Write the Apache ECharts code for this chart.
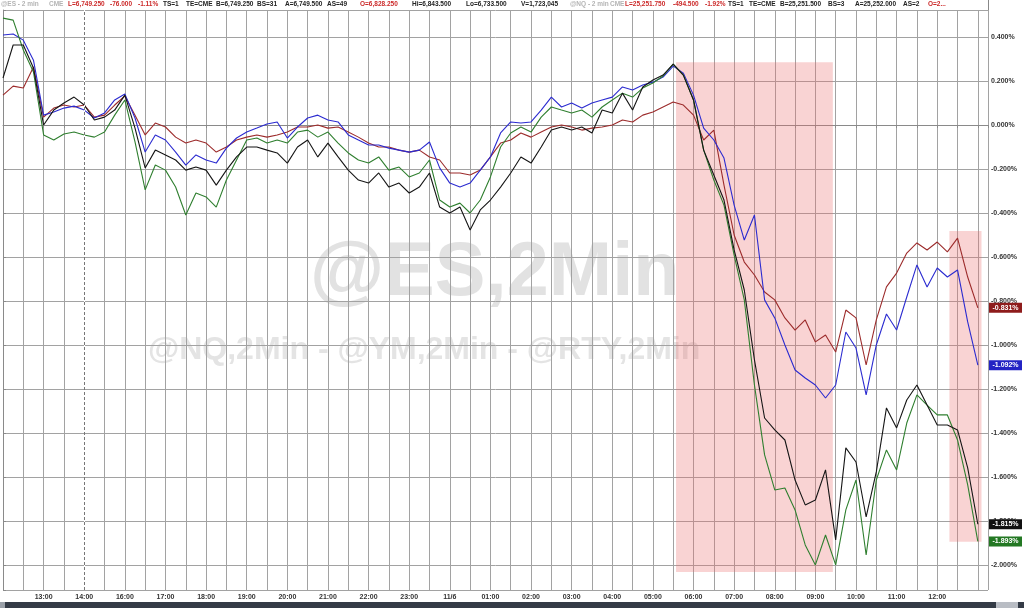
<!DOCTYPE html>
<html>
<head>
<meta charset="utf-8">
<script src="https://cdn.jsdelivr.net/npm/echarts@6/dist/echarts.min.js"></script>
<style>
html, body { margin: 0; padding: 0; background: #fff; }
#chart { width: 1024px; height: 608px; }
</style>
</head>
<body>
<div id="chart"></div>
<script>
// x = trading hours since 12:00 (the 15:00 hour is skipped), one point every 15 min
const STEP = 0.25;
const X_MAX = 24.25;
const tickLabels = ['', '13:00', '14:00', '16:00', '17:00', '18:00', '19:00', '20:00', '21:00', '22:00',
  '23:00', '11/6', '01:00', '02:00', '03:00', '04:00', '05:00', '06:00', '07:00', '08:00',
  '09:00', '10:00', '11:00', '12:00', ''];

// % change
const esVals = [0.409,0.414,0.386,0.295,0.045,0.059,0.077,0.086,0.068,0.032,
  0.055,0.114,0.141,0.032,-0.123,-0.045,-0.068,-0.123,-0.182,-0.136,
  -0.159,-0.173,-0.105,-0.059,-0.032,-0.014,0.005,0.014,-0.059,-0.009,
  0.032,0.045,0.023,0.014,-0.045,-0.068,-0.091,-0.091,-0.105,-0.114,
  -0.123,-0.114,-0.077,-0.195,-0.264,-0.282,-0.264,-0.205,-0.145,-0.036,
  0.014,0.009,0.014,0.068,0.127,0.082,0.1,0.077,0.1,0.114,
  0.127,0.173,0.159,0.182,0.195,0.218,0.268,0.236,0.136,-0.014,
  -0.068,-0.15,-0.364,-0.523,-0.409,-0.795,-0.877,-1.0,-1.114,-1.15,
  -1.182,-1.241,-1.182,-0.941,-1.014,-1.227,-1.0,-0.859,-0.932,-0.782,
  -0.636,-0.736,-0.65,-0.691,-0.659,-0.895,-1.092];
const rtyVals = [0.214,0.364,0.364,0.259,0,0.068,0.1,0.127,0.091,0.023,
  0.036,0.068,0.136,-0.014,-0.195,-0.114,-0.136,-0.159,-0.205,-0.191,
  -0.205,-0.273,-0.205,-0.145,-0.1,-0.1,-0.114,-0.127,-0.173,-0.1,
  -0.068,-0.145,-0.082,-0.145,-0.205,-0.25,-0.264,-0.218,-0.282,-0.264,
  -0.309,-0.282,-0.218,-0.373,-0.4,-0.373,-0.477,-0.386,-0.341,-0.282,
  -0.218,-0.145,-0.173,-0.1,-0.023,-0.009,-0.023,-0.009,-0.036,0.068,
  0.055,0.145,0.068,0.173,0.205,0.227,0.277,0.227,0.114,-0.114,
  -0.227,-0.341,-0.568,-0.75,-1.068,-1.332,-1.386,-1.432,-1.614,-1.727,
  -1.705,-1.568,-1.886,-1.468,-1.532,-1.782,-1.577,-1.286,-1.377,-1.25,
  -1.182,-1.273,-1.364,-1.364,-1.386,-1.559,-1.815];
const nqVals = [0.486,0.477,0.341,0.241,-0.045,-0.068,-0.041,-0.032,-0.045,-0.055,
  -0.032,0.045,0.114,-0.077,-0.295,-0.182,-0.205,-0.282,-0.409,-0.309,
  -0.327,-0.373,-0.25,-0.159,-0.068,-0.059,-0.082,-0.068,-0.082,-0.032,
  -0.023,-0.055,-0.032,-0.082,-0.127,-0.159,-0.173,-0.145,-0.205,-0.191,
  -0.236,-0.218,-0.159,-0.341,-0.373,-0.355,-0.4,-0.341,-0.236,-0.1,
  -0.036,-0.009,-0.032,0.036,0.082,0.068,0.055,0.068,0.036,0.082,
  0.114,0.145,0.127,0.168,0.191,0.223,0.277,0.227,0.114,-0.114,
  -0.25,-0.364,-0.591,-0.795,-1.182,-1.5,-1.659,-1.65,-1.75,-1.909,
  -2.0,-1.864,-2.0,-1.75,-1.614,-1.955,-1.614,-1.477,-1.568,-1.355,
  -1.227,-1.273,-1.318,-1.318,-1.432,-1.636,-1.893];
const ymVals = [0.136,0.177,0.168,0.264,0.036,0.077,0.091,0.082,0.091,0.036,
  0.045,0.091,0.132,0.045,-0.045,0.009,-0.009,-0.055,-0.082,-0.068,
  -0.082,-0.123,-0.1,-0.068,-0.055,-0.045,-0.055,-0.045,-0.032,-0.009,
  -0.009,0,-0.014,-0.009,-0.032,-0.055,-0.082,-0.1,-0.1,-0.114,
  -0.123,-0.114,-0.145,-0.159,-0.218,-0.218,-0.227,-0.205,-0.145,-0.082,
  -0.068,-0.036,-0.055,-0.032,-0.009,0,-0.009,-0.023,-0.014,-0.009,
  0,0.023,0.014,0.045,0.059,0.082,0.105,0.091,0.045,-0.068,
  -0.023,-0.273,-0.5,-0.623,-0.682,-0.759,-0.795,-0.877,-0.932,-0.886,
  -0.986,-0.955,-1.032,-0.841,-0.877,-1.091,-0.886,-0.736,-0.673,-0.582,
  -0.536,-0.568,-0.532,-0.577,-0.514,-0.691,-0.831];

// highlighted boxes [x1, y1, x2, y2] in axis units
const boxes = [[16.57, 0.286, 20.43, -2.032], [23.3, -0.482, 24.09, -1.895]];

const chart = echarts.init(document.getElementById('chart'));

function toPairs(vals) {
  return vals.map((v, i) => [i * STEP, v]);
}

function makeSeries(name, vals, color, tagColor) {
  const last = vals[vals.length - 1];
  return {
    name: name,
    type: 'line',
    data: toPairs(vals),
    showSymbol: false,
    symbol: 'none',
    lineStyle: { color: color, width: 1.1 },
    itemStyle: { color: color },
    z: 3,
    markPoint: {
      symbol: 'rect',
      symbolSize: [33, 10],
      symbolOffset: [17.5, 0],
      silent: true,
      itemStyle: { color: tagColor },
      label: {
        show: true,
        position: 'inside',
        color: '#fff',
        fontSize: 7,
        fontWeight: 'bold',
        fontFamily: 'Liberation Sans, Arial',
        formatter: last.toFixed(3) + '%'
      },
      data: [{ coord: [X_MAX, last] }]
    }
  };
}

const series = [
  makeSeries('@YM', ymVals, '#9c2b2b', '#8e1c1c'),
  makeSeries('@ES', esVals, '#2b2bd0', '#2424c4'),
  makeSeries('@NQ', nqVals, '#2f7f2f', '#237823'),
  makeSeries('@RTY', rtyVals, '#151515', '#111111')
];
series[0].markArea = {
  silent: true,
  itemStyle: { color: 'rgba(235,110,110,0.3)' },
  data: boxes.map(b => [{ xAxis: b[0], yAxis: b[1] }, { xAxis: b[2], yAxis: b[3] }])
};
// session break at 14:00
series[0].markLine = {
  silent: true,
  symbol: 'none',
  label: { show: false },
  data: [
    { xAxis: 2, lineStyle: { color: '#fff', type: 'solid', width: 1 } },
    { xAxis: 2, lineStyle: { color: '#777', type: [3, 2], width: 1 } }
  ]
};

// header quote strip: [text, x, color]
const GRAY = '#b4b4b4', RED = '#cc2a2a', BLK = '#222';
const header = [
  ['@ES - 2 min', 1, GRAY], ['CME', 49, GRAY], ['L=6,749.250', 68, RED], ['-76.000', 110, RED],
  ['-1.11%', 138, RED], ['TS=1', 163, BLK], ['TE=CME', 186, BLK], ['B=6,749.250', 216, BLK],
  ['BS=31', 257, BLK], ['A=6,749.500', 285, BLK], ['AS=49', 327, BLK], ['O=6,828.250', 360, RED],
  ['Hi=6,843.500', 412, BLK], ['Lo=6,733.500', 466, BLK], ['V=1,723,045', 521, BLK],
  ['@NQ - 2 min', 570, GRAY], ['CME', 610, GRAY], ['L=25,251.750', 625, RED], ['-494.500', 673, RED],
  ['-1.92%', 705, RED], ['TS=1', 728, BLK], ['TE=CME', 749, BLK], ['B=25,251.500', 780, BLK],
  ['BS=3', 828, BLK], ['A=25,252.000', 855, BLK], ['AS=2', 903, BLK], ['O=2...', 928, RED]
];

const graphics = header.map(h => ({
  type: 'text',
  left: h[1],
  top: 1,
  z: 10,
  style: { text: h[0], fill: h[2], fontSize: 6.5, fontWeight: 'bold', fontFamily: 'Liberation Sans, Arial' }
}));
graphics.push(
  {
    type: 'text', left: 310, top: 236, z: -10, silent: true,
    style: { text: '@ES,2Min', fill: '#e2e2e2', fontSize: 76, fontWeight: 'bold', fontFamily: 'Liberation Sans, Arial' }
  },
  {
    type: 'text', left: 148, top: 334, z: -10, silent: true,
    style: { text: '@NQ,2Min - @YM,2Min - @RTY,2Min', fill: '#e4e4e4', fontSize: 32, fontWeight: 'bold', fontFamily: 'Liberation Sans, Arial' }
  },
  { type: 'line', z: 5, shape: { x1: 988.5, y1: 0, x2: 988.5, y2: 10 }, style: { stroke: '#888', lineWidth: 1 } },
  { type: 'rect', z: 5, shape: { x: 0, y: 602, width: 1024, height: 6 }, style: { fill: '#343b46' } },
  { type: 'rect', z: 6, shape: { x: 0, y: 602, width: 5, height: 6 }, style: { fill: '#9aa0a8' } },
  { type: 'rect', z: 6, shape: { x: 996, y: 602, width: 22, height: 6 }, style: { fill: '#b9bdc4' } }
);

chart.setOption({
  animation: false,
  backgroundColor: '#fff',
  grid: { left: 2, right: 36, top: 10, bottom: 18 },
  xAxis: {
    type: 'value',
    min: 0,
    max: X_MAX,
    interval: 0.5,
    axisLine: { lineStyle: { color: '#8a8a8a' } },
    axisTick: { show: true, length: 3, lineStyle: { color: '#8a8a8a' } },
    splitLine: { show: true, lineStyle: { color: '#a2a2a2', width: 1 } },
    axisLabel: {
      color: '#333',
      fontSize: 7,
      fontWeight: 'bold',
      fontFamily: 'Liberation Sans, Arial',
      margin: 4,
      formatter: function (v) {
        if (Math.abs(v - Math.round(v)) > 1e-6) return '';
        return tickLabels[Math.round(v)] || '';
      }
    }
  },
  yAxis: {
    type: 'value',
    position: 'right',
    min: -2.114,
    max: 0.523,
    splitNumber: 13,
    axisLine: { show: true, lineStyle: { color: '#8a8a8a' } },
    axisTick: { show: true, length: 3, lineStyle: { color: '#8a8a8a' } },
    splitLine: { show: true, lineStyle: { color: '#a2a2a2', width: 1 } },
    axisLabel: {
      color: '#333',
      fontSize: 7,
      fontWeight: 'bold',
      fontFamily: 'Liberation Sans, Arial',
      margin: 3,
      formatter: function (v) {
        if (Math.abs(v * 5 - Math.round(v * 5)) > 1e-6) return '';
        return v.toFixed(3) + '%';
      }
    }
  },
  graphic: graphics,
  series: series
});
</script>
</body>
</html>
